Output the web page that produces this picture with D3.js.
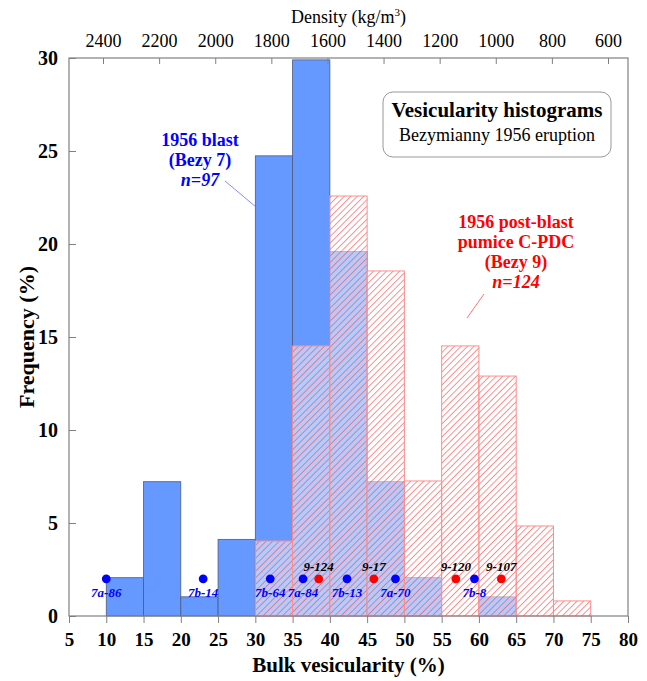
<!DOCTYPE html>
<html>
  <head>
    <meta charset="utf-8">
    <title>Vesicularity histograms</title>
    <script src="https://cdn.jsdelivr.net/npm/d3@7"></script>
    <style>
      body { margin: 0; background: #fff; }
      svg text { font-family: "Liberation Serif", "DejaVu Serif", serif; }
    </style>
  </head>
  <body>
    <svg id="chart" width="647" height="681"></svg>

    <script>
      // bins (lower edge of 5% bins)
      const blastBins = [10, 15, 20, 25, 30, 35, 40, 45, 50, 55, 60];
      const blastFreq = [2.06, 7.22, 1.03, 4.12, 24.74, 29.9, 19.59, 7.22, 2.06, 0, 1.03];
      const pumiceBins = [30, 35, 40, 45, 50, 55, 60, 65, 70];
      const pumiceFreq = [4.03, 14.52, 22.58, 18.55, 7.26, 14.52, 12.9, 4.84, 0.81];

      // sample markers
      const blastSamples = ["7a-86", "7b-14", "7b-64", "7a-84", "7b-13", "7a-70", "7b-8"];
      const blastSampleVes = [10, 23, 32, 36.4, 42.3, 48.8, 59.4];
      const pumiceSamples = ["9-124", "9-17", "9-120", "9-107"];
      const pumiceSampleVes = [38.5, 45.9, 56.9, 63];
      const sampleLevel = 2;

      const xTicks = [5, 10, 15, 20, 25, 30, 35, 40, 45, 50, 55, 60, 65, 70, 75, 80];
      const yTicks = [0, 5, 10, 15, 20, 25, 30];
      const densityTicks = [2400, 2200, 2000, 1800, 1600, 1400, 1200, 1000, 800, 600];

      const svg = d3.select("#chart");
      const pL = 69, pR = 628, pT = 58, pB = 616;

      const x = d3.scaleLinear().domain([5, 80]).range([pL, pR]);
      const y = d3.scaleLinear().domain([0, 30]).range([pB, pT]);
      const dens = d3.scaleLinear().domain([2400, 600]).range([103, 608]);

      // hatch pattern
      const defs = svg.append("defs");
      const pat = defs.append("pattern")
        .attr("id", "hatch")
        .attr("patternUnits", "userSpaceOnUse")
        .attr("width", 4.6).attr("height", 4.6)
        .attr("patternTransform", "rotate(45)");
      pat.append("rect").attr("width", 4.6).attr("height", 4.6)
        .attr("fill", "#fff").attr("fill-opacity", 0.5);
      pat.append("line")
        .attr("x1", 0).attr("y1", 0).attr("x2", 0).attr("y2", 4.6)
        .attr("stroke", "#ff4545").attr("stroke-width", 1.2);

      // blast bars
      svg.append("g").selectAll("rect")
        .data(blastBins.map((b, i) => ({ b: b, f: blastFreq[i] })).filter(d => d.f > 0))
        .enter().append("rect")
          .attr("x", d => x(d.b))
          .attr("width", d => x(d.b + 5) - x(d.b))
          .attr("y", d => y(d.f))
          .attr("height", d => y(0) - y(d.f))
          .attr("fill", "#6699ff")
          .attr("stroke", "#4d5a80")
          .attr("stroke-width", 0.8);

      // post-blast bars
      svg.append("g").selectAll("rect")
        .data(pumiceBins.map((b, i) => ({ b: b, f: pumiceFreq[i] })))
        .enter().append("rect")
          .attr("x", d => x(d.b))
          .attr("width", d => x(d.b + 5) - x(d.b))
          .attr("y", d => y(d.f))
          .attr("height", d => y(0) - y(d.f))
          .attr("fill", "url(#hatch)")
          .attr("stroke", "#ff8c8c")
          .attr("stroke-width", 1);

      // frame
      svg.append("rect")
        .attr("x", pL).attr("y", pT)
        .attr("width", pR - pL).attr("height", pB - pT)
        .attr("fill", "none").attr("stroke", "#808080").attr("stroke-width", 1.2);

      // bottom axis
      const bx = svg.append("g").attr("transform", `translate(0,${pB})`)
        .call(d3.axisBottom(x).tickValues(xTicks).tickSize(7).tickPadding(10));
      bx.select(".domain").remove();
      bx.selectAll("line").attr("stroke", "#808080");
      bx.selectAll("text").attr("font-size", 19).attr("font-weight", "bold")
        .attr("fill", "#000").attr("font-family", "Liberation Serif");

      // left axis, ticks inward
      const ly = svg.append("g").attr("transform", `translate(${pL},0)`)
        .call(d3.axisRight(y).tickValues(yTicks).tickSize(7));
      ly.select(".domain").remove();
      ly.selectAll("line").attr("stroke", "#808080");
      ly.selectAll("text").attr("text-anchor", "end").attr("x", -11)
        .attr("font-size", 20).attr("font-weight", "bold")
        .attr("fill", "#000").attr("font-family", "Liberation Serif");

      // top density axis, ticks inward
      const tx = svg.append("g").attr("transform", `translate(0,${pT})`)
        .call(d3.axisBottom(dens).tickValues(densityTicks).tickSize(6).tickFormat(d3.format("d")));
      tx.select(".domain").remove();
      tx.selectAll("line").attr("stroke", "#808080");
      tx.selectAll("text").attr("y", -11).attr("dy", 0)
        .attr("font-size", 18).attr("fill", "#000").attr("font-family", "Liberation Serif");

      // axis titles
      svg.append("text")
        .attr("x", (pL + pR) / 2).attr("y", 672)
        .attr("text-anchor", "middle")
        .attr("font-size", 21).attr("font-weight", "bold")
        .text("Bulk vesicularity (%)");
      svg.append("text")
        .attr("transform", `translate(34,${(pT + pB) / 2}) rotate(-90)`)
        .attr("text-anchor", "middle")
        .attr("font-size", 22).attr("font-weight", "bold")
        .text("Frequency (%)");
      const dt = svg.append("text")
        .attr("x", (pL + pR) / 2).attr("y", 23)
        .attr("text-anchor", "middle")
        .attr("font-size", 18);
      dt.append("tspan").text("Density (kg/m");
      dt.append("tspan").attr("font-size", 11).attr("dy", -7).text("3");
      dt.append("tspan").attr("dy", 7).text(")");

      // sample dots
      svg.append("g").selectAll("circle")
        .data(blastSampleVes)
        .enter().append("circle")
          .attr("cx", d => x(d)).attr("cy", y(sampleLevel))
          .attr("r", 4.4).attr("fill", "#0000ff");
      svg.append("g").selectAll("text")
        .data(blastSamples)
        .enter().append("text")
          .attr("x", (d, i) => x(blastSampleVes[i]))
          .attr("y", y(sampleLevel) + 18)
          .attr("text-anchor", "middle")
          .attr("font-size", 13).attr("font-weight", "bold").attr("font-style", "italic")
          .attr("fill", "#0000ff")
          .text(d => d);
      svg.append("g").selectAll("circle")
        .data(pumiceSampleVes)
        .enter().append("circle")
          .attr("cx", d => x(d)).attr("cy", y(sampleLevel))
          .attr("r", 4.4).attr("fill", "#ff0000");
      svg.append("g").selectAll("text")
        .data(pumiceSamples)
        .enter().append("text")
          .attr("x", (d, i) => x(pumiceSampleVes[i]))
          .attr("y", y(sampleLevel) - 8)
          .attr("text-anchor", "middle")
          .attr("font-size", 13).attr("font-weight", "bold").attr("font-style", "italic")
          .attr("fill", "#000")
          .text(d => d);

      // series annotations
      const blastLines = ["1956 blast", "(Bezy 7)"];
      svg.append("g").selectAll("text")
        .data(blastLines)
        .enter().append("text")
          .attr("x", 200).attr("y", (d, i) => 146 + i * 20)
          .attr("text-anchor", "middle")
          .attr("font-size", 18).attr("font-weight", "bold").attr("fill", "#0000ff")
          .text(d => d);
      svg.append("text")
        .attr("x", 200).attr("y", 186)
        .attr("text-anchor", "middle")
        .attr("font-size", 18).attr("font-weight", "bold").attr("font-style", "italic")
        .attr("fill", "#0000ff").text("n=97");
      svg.append("line")
        .attr("x1", 225).attr("y1", 181).attr("x2", 256).attr("y2", 207)
        .attr("stroke", "#6b6bff").attr("stroke-width", 0.8);

      const pumiceLines = ["1956 post-blast", "pumice C-PDC", "(Bezy 9)"];
      svg.append("g").selectAll("text")
        .data(pumiceLines)
        .enter().append("text")
          .attr("x", 516).attr("y", (d, i) => 228 + i * 20)
          .attr("text-anchor", "middle")
          .attr("font-size", 18).attr("font-weight", "bold").attr("fill", "#ff0000")
          .text(d => d);
      svg.append("text")
        .attr("x", 516).attr("y", 288)
        .attr("text-anchor", "middle")
        .attr("font-size", 18).attr("font-weight", "bold").attr("font-style", "italic")
        .attr("fill", "#ff0000").text("n=124");
      svg.append("line")
        .attr("x1", 484).attr("y1", 294).attr("x2", 467).attr("y2", 318)
        .attr("stroke", "#ff4d4d").attr("stroke-width", 0.8);

      // title box
      svg.append("rect")
        .attr("x", 383).attr("y", 92).attr("width", 228).attr("height", 65)
        .attr("rx", 10).attr("fill", "#fff").attr("stroke", "#999");
      svg.append("text")
        .attr("x", 497).attr("y", 117).attr("text-anchor", "middle")
        .attr("font-size", 21).attr("font-weight", "bold")
        .text("Vesicularity histograms");
      svg.append("text")
        .attr("x", 497).attr("y", 141).attr("text-anchor", "middle")
        .attr("font-size", 18)
        .text("Bezymianny 1956 eruption");
    </script>
  </body>
</html>
